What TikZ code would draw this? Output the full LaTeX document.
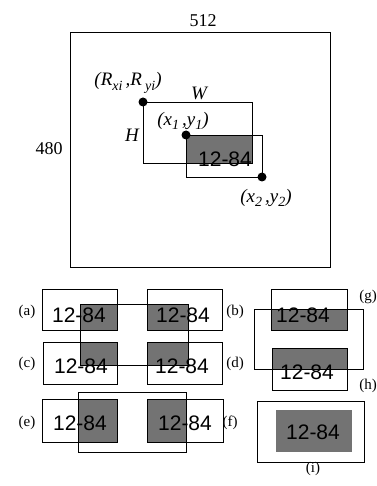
\documentclass[tikz,border=0pt]{standalone}
\usepackage{fontspec}
\setmainfont{Liberation Serif}
\newfontfamily\labfont{Liberation Sans}
\newcommand{\lowidx}[1]{\raisebox{-0.25em}{\fontsize{14}{14}\selectfont #1}}
\begin{document}
\begin{tikzpicture}[x=1pt,y=-1pt,
  box/.style={draw=black,line width=0.9pt},
  shade/.style={fill=black!55},
  code/.style={font=\labfont\fontsize{21}{21}\selectfont,inner sep=0pt},
  tag/.style={font=\fontsize{15}{15}\selectfont,inner sep=0pt},
  dim/.style={font=\fontsize{18}{18}\selectfont,inner sep=0pt},
  coord/.style={font=\itshape\fontsize{19}{19}\selectfont,inner sep=0pt},
  dot/.style={circle,fill=black,inner sep=0pt,minimum size=9pt}]
\fill[white] (0,0) rectangle (376,486);
\useasboundingbox (0,0) rectangle (376,486);
% ---------- top figure ----------
\draw[box] (70,32) rectangle (330,267);
\node[dim] (w512) at (203,21) {512};
\node[dim] (h480) at (49,149) {480};
\fill[shade] (186,135) rectangle (252,163);
\node[code] (t0) at (225,159) {12-84};
\draw[box] (143,102) rectangle (252,163);
\draw[box] (186,135) rectangle (262,177);
\node[dot] (r) at (143,102) {};
\node[dot] (p1) at (186,135) {};
\node[dot] (p2) at (262,177) {};
\node[coord] (rl) at (128,83) {(R\lowidx{xi}\,,R\,\lowidx{yi})};
\node[coord] (wl) at (199,93) {W};
\node[coord] (hl) at (132,135) {H};
\node[coord] (p1l) at (183,121) {(x\lowidx{1}\,,y\lowidx{1})};
\node[coord] (p2l) at (266,198) {(x\lowidx{2}\,,y\lowidx{2})};
% ---------- (a)-(d) ----------
\fill[shade] (80,305) rectangle (117,330);
\fill[shade] (147,305) rectangle (188,330);
\fill[shade] (80,342) rectangle (117,365);
\fill[shade] (147,342) rectangle (188,365);
\node[code] (ta) at (79,315) {12-84};
\node[code] (tb) at (183,315) {12-84};
\node[code] (tc) at (81,366) {12-84};
\node[code] (td) at (182,366) {12-84};
\draw[box] (42,289) rectangle (117,330);
\draw[box] (147,289) rectangle (222,330);
\draw[box] (43,342) rectangle (117,384);
\draw[box] (147,342) rectangle (222,384);
\draw[box] (80,304) rectangle (188,365);
\node[tag] (la) at (27,312) {(a)};
\node[tag] (lb) at (235,312) {(b)};
\node[tag] (lc) at (27,364) {(c)};
\node[tag] (ld) at (235,364) {(d)};
% ---------- (e)-(f) ----------
\fill[shade] (78,399) rectangle (117,442);
\fill[shade] (147,399) rectangle (186,442);
\node[code] (te) at (80,423) {12-84};
\node[code] (tf) at (185,423) {12-84};
\draw[box] (42,399) rectangle (117,442);
\draw[box] (147,399) rectangle (223,442);
\draw[box] (78,392) rectangle (186,452);
\node[tag] (le) at (27,423) {(e)};
\node[tag] (lf) at (230,423) {(f)};
% ---------- (g)-(h) ----------
\fill[shade] (271,309) rectangle (347,330);
\fill[shade] (272,348) rectangle (347,369);
\node[code] (tg) at (303,315) {12-84};
\node[code] (th) at (307,372) {12-84};
\draw[box] (271,289) rectangle (347,330);
\draw[box] (272,348) rectangle (347,390);
\draw[box] (254,309) rectangle (363,369);
\node[tag] (lg) at (368,297) {(g)};
\node[tag] (lh) at (368,386) {(h)};
% ---------- (i) ----------
\fill[shade] (276,410) rectangle (352,452);
\node[code] (ti) at (313,432) {12-84};
\draw[box] (257,401) rectangle (364,462);
\node[tag] (li) at (313,469) {(i)};
\end{tikzpicture}
\end{document}
